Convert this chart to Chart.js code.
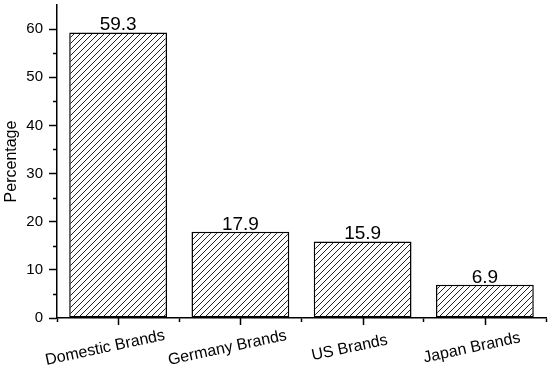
<!DOCTYPE html>
<html>
<head>
<meta charset="utf-8">
<script src="https://cdn.jsdelivr.net/npm/chart.js@4/dist/chart.umd.min.js"></script>
<style>
html,body{margin:0;padding:0;background:#fff;}
#wrap{width:550px;height:369px;position:relative;}
</style>
</head>
<body>
<div id="wrap"><canvas id="c" width="550" height="369"></canvas></div>
<script>
const categories = ["Domestic Brands", "Germany Brands", "US Brands", "Japan Brands"];
const percentages = [59.3, 17.9, 15.9, 6.9];
const valueLabels = ["59.3", "17.9", "15.9", "6.9"];
const yMinorTicks = [5, 15, 25, 35, 45, 55];

const FONT = "'Liberation Sans', Arial, sans-serif";

function hatch() {
  const s = 6;
  const c = document.createElement('canvas');
  c.width = s; c.height = s;
  const g = c.getContext('2d');
  g.fillStyle = '#fff';
  g.fillRect(0, 0, s, s);
  g.strokeStyle = '#222';
  g.lineWidth = 1;
  g.beginPath();
  g.moveTo(0, s); g.lineTo(s, 0);
  g.moveTo(-1, 1); g.lineTo(1, -1);
  g.moveTo(s - 1, s + 1); g.lineTo(s + 1, s - 1);
  g.stroke();
  return g.createPattern(c, 'repeat');
}

const extras = {
  id: 'extras',
  afterDatasetsDraw(chart) {
    const ctx = chart.ctx;
    const xs = chart.scales.x, ys = chart.scales.y;
    ctx.save();
    ctx.strokeStyle = '#000';
    ctx.lineWidth = 1.5;
    ctx.beginPath();
    categories.forEach((c, i) => {
      const x = Math.round(xs.getPixelForValue(i)) + 0.5;
      ctx.moveTo(x, xs.top);
      ctx.lineTo(x, xs.top + 7);
    });
    yMinorTicks.forEach(v => {
      const y = Math.round(ys.getPixelForValue(v)) + 0.5;
      ctx.moveTo(ys.right - 4, y);
      ctx.lineTo(ys.right, y);
    });
    ctx.stroke();

    const meta = chart.getDatasetMeta(0);
    ctx.fillStyle = '#000';
    ctx.font = '19px ' + FONT;
    ctx.textAlign = 'center';
    ctx.textBaseline = 'alphabetic';
    meta.data.forEach((bar, i) => {
      ctx.fillText(valueLabels[i], bar.x, bar.y - 2);
    });

    ctx.font = '16px ' + FONT;
    ctx.textBaseline = 'middle';
    categories.forEach((c, i) => {
      const x = xs.getPixelForValue(i);
      ctx.save();
      ctx.translate(x - 13, xs.top + 30);
      ctx.rotate(-12 * Math.PI / 180);
      ctx.fillText(c, 0, 0);
      ctx.restore();
    });
    ctx.restore();
  }
};

new Chart(document.getElementById('c'), {
  type: 'bar',
  data: {
    labels: categories,
    datasets: [{
      data: percentages,
      backgroundColor: hatch(),
      borderColor: '#000',
      borderWidth: 1.5,
      borderSkipped: false,
      barPercentage: 0.8,
      categoryPercentage: 1.0
    }]
  },
  options: {
    responsive: false,
    animation: false,
    devicePixelRatio: 1,
    layout: { padding: { top: 5, right: 4, left: 0, bottom: 0 } },
    plugins: { legend: { display: false }, tooltip: { enabled: false } },
    scales: {
      x: {
        offset: true,
        grid: { display: true, offset: true, drawOnChartArea: false, drawTicks: true, tickLength: 4, tickColor: '#000', tickWidth: 1.5, color: '#000' },
        border: { display: true, color: '#000', width: 1.5 },
        ticks: { display: false },
        afterFit(s) { s.height = 51; s.paddingLeft = 0; s.paddingRight = 0; }
      },
      y: {
        min: 0,
        max: 65,
        grid: { display: true, drawOnChartArea: false, drawTicks: true, tickLength: 8, tickColor: '#000', tickWidth: 1.5, color: '#000' },
        border: { display: true, color: '#000', width: 1.5 },
        ticks: { stepSize: 10, includeBounds: false, padding: 6, color: '#000', font: { family: FONT, size: 15 } },
        title: { display: true, text: 'Percentage', color: '#000', padding: { top: 2, bottom: 2 }, font: { family: FONT, size: 16 } },
        afterFit(s) { s.width = 57; s.paddingTop = 0; s.paddingBottom = 0; }
      }
    }
  },
  plugins: [extras]
});
</script>
</body>
</html>
